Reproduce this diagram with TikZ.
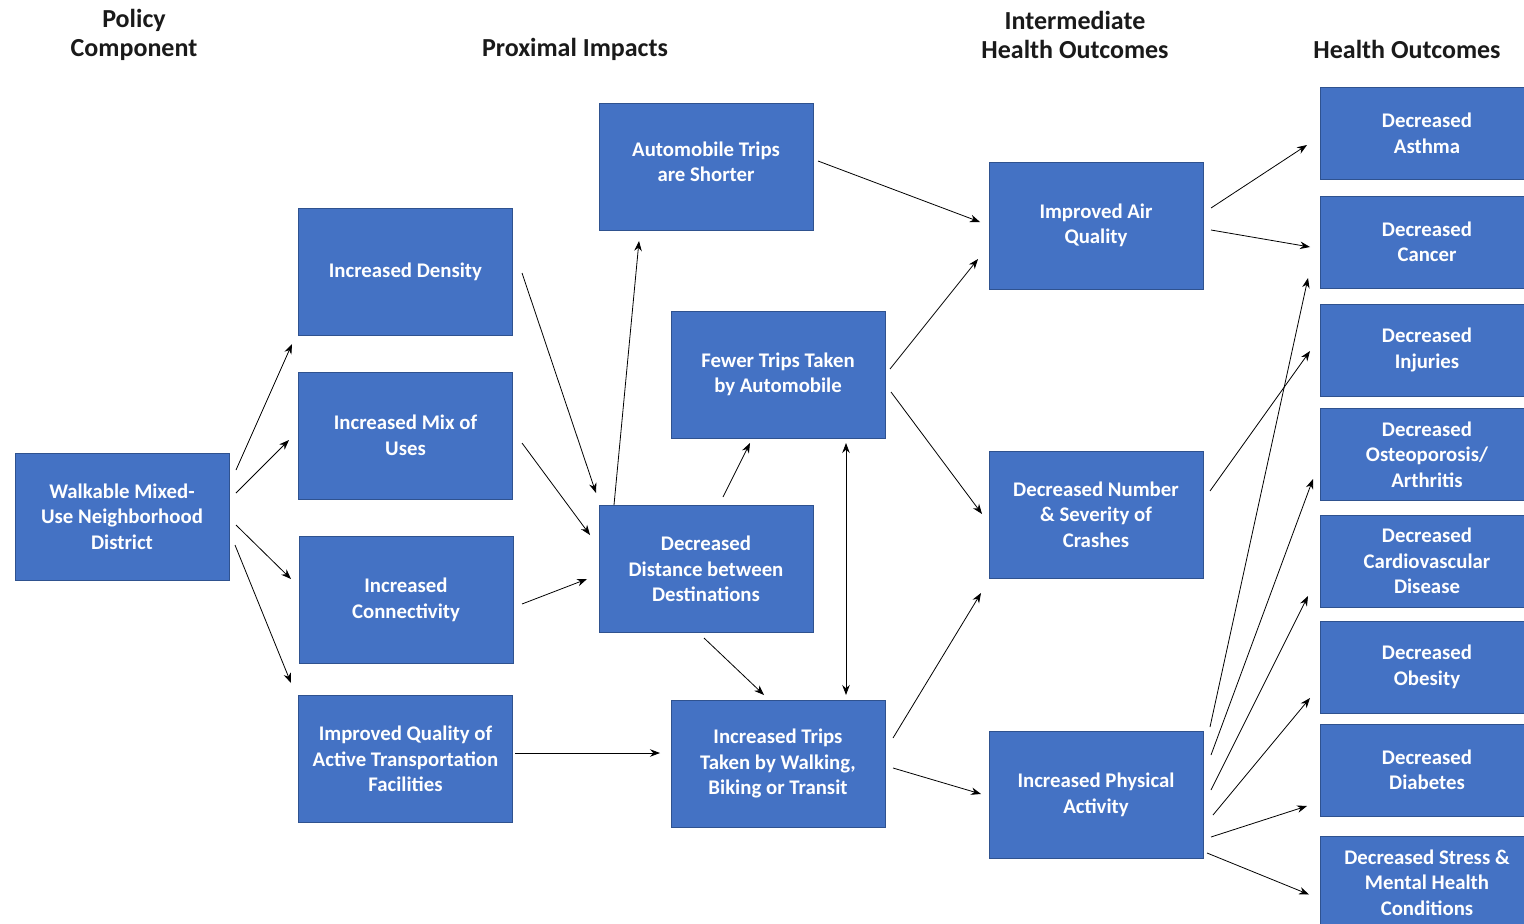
\documentclass[tikz,border=0pt]{standalone}
\usepackage{fontspec}
\setmainfont{Carlito}
\usetikzlibrary{arrows.meta,calc}
\definecolor{boxfill}{HTML}{4472C4}
\definecolor{boxline}{HTML}{2F528F}
\definecolor{headcol}{HTML}{1A1A1A}
\tikzset{
  box/.style={draw=boxline, line width=1pt, fill=boxfill, text=white, minimum width=214pt, minimum height=127pt, inner sep=0pt, align=center, font=\fontsize{20.8}{25.5}\selectfont\bfseries},
  hbox/.style={box, minimum height=92pt},
  head/.style={text=headcol, align=center, font=\fontsize{26}{28.5}\selectfont\bfseries, inner sep=0pt},
  arr/.style={-{Stealth[length=10pt,width=7.5pt]}, line width=0.8pt, black},
  darr/.style={{Stealth[length=10pt,width=7.5pt]}-{Stealth[length=10pt,width=7.5pt]}, line width=0.8pt, black}
}
\begin{document}
\begin{tikzpicture}[x=1pt,y=-1pt]
\useasboundingbox (0,0) rectangle (1524,924);
\clip (0,0) rectangle (1524,924);
\fill[white] (0,0) rectangle (1524,924);
% headers
\node[head] (h1) at (134,35) {Policy\\Component};
\node[head] (h2) at (575,49) {Proximal Impacts};
\node[head] (h3) at (1075,35) {Intermediate\\Health Outcomes};
\node[head] (h4) at (1407,49) {Health Outcomes};
% boxes
\node[box] (walk) at (122,516.5) {Walkable Mixed-\\Use Neighborhood\\District};
\node[box] (dens) at (405.5,271.5) {Increased Density};
\node[box] (mix) at (405.5,435.5) {Increased Mix of\\Uses};
\node[box] (conn) at (406,600) {Increased\\Connectivity};
\node[box] (qual) at (405.5,759) {Improved Quality of\\Active Transportation\\Facilities};
\node[box] (auto) at (706,167) {};
\node[text=white, align=center, font=\fontsize{20.8}{25.5}\selectfont\bfseries, inner sep=0pt] (autotxt) at ($(auto)+(0,-5)$) {Automobile Trips\\are Shorter};
\node[box] (fewer) at (778,374.5) {Fewer Trips Taken\\by Automobile};
\node[box] (dist) at (706,569) {Decreased\\Distance between\\Destinations};
\node[box] (inc) at (778,763.5) {Increased Trips\\Taken by Walking,\\Biking or Transit};
\node[box] (air) at (1096,225.5) {Improved Air\\Quality};
\node[box] (crash) at (1096,514.5) {Decreased Number\\\& Severity of\\Crashes};
\node[box] (phys) at (1096,795) {Increased Physical\\Activity};
\node[hbox] (asth) at (1427,133.5) {Decreased\\Asthma};
\node[hbox] (canc) at (1427,242) {Decreased\\Cancer};
\node[hbox] (inj) at (1427,350) {Decreased\\Injuries};
\node[hbox] (oste) at (1427,454.5) {Decreased\\Osteoporosis/\\Arthritis};
\node[hbox] (card) at (1427,561) {Decreased\\Cardiovascular\\Disease};
\node[hbox] (obes) at (1427,667) {Decreased\\Obesity};
\node[hbox] (diab) at (1427,770) {Decreased\\Diabetes};
\node[hbox] (stre) at (1427,882.5) {Decreased Stress \&\\Mental Health\\Conditions};
% connectors
\draw[arr] ($(walk)+(114,-46.5)$) -- ($(dens)+(-113.5,72.5)$);
\draw[arr] ($(walk)+(114,-23.5)$) -- ($(mix)+(-116.5,4.5)$);
\draw[arr] ($(walk)+(114,8.5)$) -- ($(conn)+(-115,-21)$);
\draw[arr] ($(walk)+(113,28.5)$) -- ($(qual)+(-114.5,-76)$);
\draw[arr] ($(dens)+(116.5,1.5)$) -- ($(dist)+(-110,-76)$);
\draw[arr] ($(mix)+(116.5,7.5)$) -- ($(dist)+(-116,-34)$);
\draw[arr] ($(conn)+(116,4)$) -- ($(dist)+(-119,10)$);
\draw[arr] ($(qual)+(109.5,-6)$) -- ($(inc)+(-118,-10.5)$);
\draw[arr] ($(dist)+(-92,-64)$) -- ($(auto)+(-67,74)$);
\draw[arr] ($(dist)+(17,-72)$) -- ($(fewer)+(-28,68.5)$);
\draw[arr] ($(dist)+(-2,69)$) -- ($(inc)+(-14,-68.5)$);
\draw[darr] ($(fewer)+(68,68.5)$) -- ($(inc)+(68,-68.5)$);
\draw[arr] ($(auto)+(112,-6)$) -- ($(air)+(-116,-3.5)$);
\draw[arr] ($(fewer)+(112,-5.5)$) -- ($(air)+(-118,33.5)$);
\draw[arr] ($(fewer)+(113,17.5)$) -- ($(crash)+(-114,-0.5)$);
\draw[arr] ($(inc)+(115,-25.5)$) -- ($(crash)+(-115,78.5)$);
\draw[arr] ($(inc)+(115,4.5)$) -- ($(phys)+(-115,-1)$);
\draw[arr] ($(air)+(115,-17.5)$) -- ($(asth)+(-120,11.5)$);
\draw[arr] ($(air)+(115,4.5)$) -- ($(canc)+(-117,5)$);
\draw[arr] ($(crash)+(114,-23.5)$) -- ($(inj)+(-117,1)$);
\draw[arr] ($(phys)+(114,-68)$) -- ($(canc)+(-119,36)$);
\draw[arr] ($(phys)+(115,-40)$) -- ($(oste)+(-114,24.5)$);
\draw[arr] ($(phys)+(115,-5)$) -- ($(card)+(-119,35)$);
\draw[arr] ($(phys)+(117,20)$) -- ($(obes)+(-117,31)$);
\draw[arr] ($(phys)+(115,42)$) -- ($(diab)+(-120,36)$);
\draw[arr] ($(phys)+(111,58)$) -- ($(stre)+(-118,12)$);
\end{tikzpicture}
\end{document}
